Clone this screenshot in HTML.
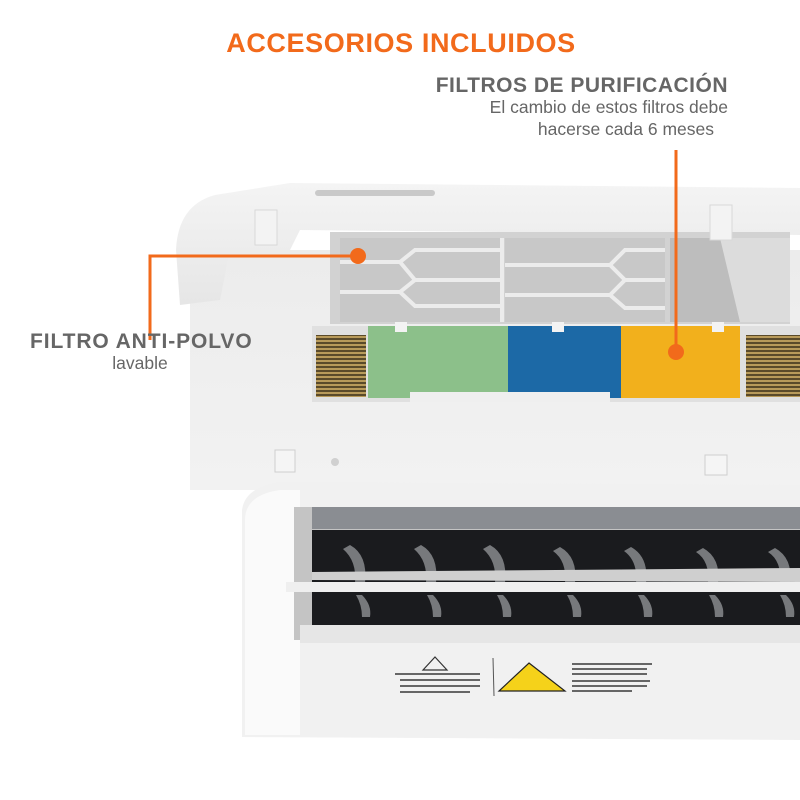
<!DOCTYPE html>
<html><head><meta charset="utf-8"><style>
body{margin:0;background:#fff;}
svg{display:block;}
</style></head><body>
<svg width="800" height="800" viewBox="0 0 800 800" xmlns="http://www.w3.org/2000/svg" font-family="Liberation Sans, sans-serif">
<defs>
<linearGradient id="lid" x1="0" y1="0" x2="0" y2="1"><stop offset="0" stop-color="#f4f4f4"/><stop offset="1" stop-color="#e6e6e6"/></linearGradient>
<linearGradient id="body" x1="0" y1="0" x2="0" y2="1"><stop offset="0" stop-color="#ececec"/><stop offset="1" stop-color="#f2f2f2"/></linearGradient>
<pattern id="coil" width="6" height="4" patternUnits="userSpaceOnUse"><rect width="6" height="4" fill="#5a4a2a"/><rect width="6" height="2" fill="#b89a5a"/></pattern>
</defs>
<path d="M190 250 L800 250 L800 490 L190 490 Z" fill="url(#body)"/>
<path d="M180 305 L176 250 Q178 205 215 195 L290 183 L800 188 L800 235 L300 230 L290 250 L230 250 L220 300 Z" fill="url(#lid)"/>
<rect x="315" y="190" width="120" height="6" rx="3" fill="#c9c9c9"/>
<rect x="330" y="232" width="460" height="92" fill="#d2d2d2"/>
<rect x="340" y="238" width="160" height="84" fill="#c8c8c8"/>
<rect x="505" y="238" width="160" height="84" fill="#c8c8c8"/>
<g stroke="#ececec" stroke-width="4" fill="none">
<path d="M340 262 L400 262 L415 250 L500 250 M340 292 L400 292 L415 280 L500 280 M400 262 L415 280 M400 292 L415 306 L500 306"/>
<path d="M505 265 L610 265 L625 250 L665 250 M505 295 L610 295 L625 280 L665 280 M610 265 L625 280 M610 295 L625 308 L665 308"/>
<path d="M502 238 L502 322"/>
</g>
<rect x="670" y="238" width="115" height="84" fill="#bdbdbd"/>
<path d="M720 238 L790 238 L790 322 L740 322 Z" fill="#dcdcdc"/>
<rect x="255" y="210" width="22" height="35" fill="#f3f3f3" stroke="#d8d8d8"/>
<rect x="710" y="205" width="22" height="35" fill="#f3f3f3" stroke="#d8d8d8"/>
<rect x="312" y="326" width="488" height="76" fill="#e0e0e0"/>
<rect x="316" y="335" width="50" height="62" fill="url(#coil)"/>
<rect x="746" y="335" width="54" height="62" fill="url(#coil)"/>
<rect x="368" y="326" width="140" height="72" fill="#8cc08a"/>
<rect x="508" y="326" width="113" height="72" fill="#1c69a6"/>
<rect x="621" y="326" width="119" height="72" fill="#f2b01c"/>
<rect x="395" y="322" width="12" height="10" fill="#f3f3f3"/>
<rect x="552" y="322" width="12" height="10" fill="#f3f3f3"/>
<rect x="712" y="322" width="12" height="10" fill="#f3f3f3"/>
<rect x="410" y="392" width="200" height="10" fill="#efefef"/>
<rect x="275" y="450" width="20" height="22" fill="#f5f5f5" stroke="#cfcfcf"/>
<rect x="705" y="455" width="22" height="20" fill="#f5f5f5" stroke="#cfcfcf"/>
<circle cx="335" cy="462" r="4" fill="#d0d0d0"/>
<path d="M242 737 L242 510 Q245 487 280 482 L800 485 L800 740 Z" fill="#f1f1f1"/>
<path d="M245 520 Q245 495 280 490 L300 490 L300 735 L245 735 Z" fill="#fafafa"/>
<rect x="294" y="507" width="506" height="133" fill="#c4c4c4"/>
<rect x="312" y="530" width="488" height="96" fill="#1a1b1e"/>
<rect x="312" y="507" width="488" height="22" fill="#8a8d92"/>
<g fill="#77797c">
<path d="M350 545 q18 10 15 38 l-10 0 q2 -22 -12 -34 Z"/>
<path d="M421 545 q18 10 15 38 l-10 0 q2 -22 -12 -34 Z"/>
<path d="M490 545 q18 10 15 38 l-10 0 q2 -22 -12 -34 Z"/>
<path d="M560 547 q18 10 15 36 l-10 0 q2 -22 -12 -32 Z"/>
<path d="M631 547 q18 10 15 36 l-10 0 q2 -22 -12 -32 Z"/>
<path d="M703 548 q18 10 15 35 l-10 0 q2 -22 -12 -31 Z"/>
<path d="M775 548 q18 10 15 35 l-10 0 q2 -22 -12 -31 Z"/>
<path d="M362 595 q10 10 8 22 l-8 0 q0 -12 -6 -22 Z"/>
<path d="M433 595 q10 10 8 22 l-8 0 q0 -12 -6 -22 Z"/>
<path d="M503 595 q10 10 8 22 l-8 0 q0 -12 -6 -22 Z"/>
<path d="M573 595 q10 10 8 22 l-8 0 q0 -12 -6 -22 Z"/>
<path d="M644 595 q10 10 8 22 l-8 0 q0 -12 -6 -22 Z"/>
<path d="M715 595 q10 10 8 22 l-8 0 q0 -12 -6 -22 Z"/>
<path d="M786 595 q10 10 8 22 l-8 0 q0 -12 -6 -22 Z"/>
</g>
<path d="M312 572 L800 568 L800 582 L312 580 Z" fill="#cfcfcf"/>
<rect x="286" y="582" width="514" height="10" fill="#efefef"/>
<rect x="300" y="625" width="500" height="18" fill="#e6e6e6"/>
<path d="M435 657 L447 670 L423 670 Z" fill="none" stroke="#333" stroke-width="1.2"/>
<g fill="#666"><rect x="395" y="673" width="85" height="2"/><rect x="400" y="679" width="80" height="2"/><rect x="400" y="685" width="80" height="2"/><rect x="400" y="691" width="70" height="2"/></g>
<line x1="493" y1="658" x2="494" y2="696" stroke="#555"/>
<path d="M529 663 L565 691 L499 691 Z" fill="#f5d21a" stroke="#222" stroke-width="1.2"/>
<g fill="#666"><rect x="572" y="663" width="80" height="2"/><rect x="572" y="668" width="75" height="2"/><rect x="572" y="673" width="75" height="2"/><rect x="572" y="680" width="78" height="2"/><rect x="572" y="685" width="75" height="2"/><rect x="572" y="690" width="60" height="2"/></g>
<path d="M150 340 L150 256 L358 256" fill="none" stroke="#f26a1b" stroke-width="3"/>
<circle cx="358" cy="256" r="8" fill="#f26a1b"/>
<line x1="676" y1="150" x2="676" y2="352" stroke="#f26a1b" stroke-width="3"/>
<circle cx="676" cy="352" r="8" fill="#f26a1b"/>
<text x="401" y="52" text-anchor="middle" font-size="27" font-weight="bold" fill="#f26a1b" letter-spacing="0.6">ACCESORIOS INCLUIDOS</text>
<text x="728" y="92" text-anchor="end" font-size="21" font-weight="bold" fill="#666" letter-spacing="0.5">FILTROS DE PURIFICACIÓN</text>
<text x="728" y="113" text-anchor="end" font-size="17.5" fill="#666">El cambio de estos filtros debe</text>
<text x="714" y="135" text-anchor="end" font-size="17.5" fill="#666">hacerse cada 6 meses</text>
<text x="30" y="348" font-size="21" font-weight="bold" fill="#666" letter-spacing="0.9">FILTRO ANTI-POLVO</text>
<text x="140" y="369" text-anchor="middle" font-size="17.5" fill="#666">lavable</text>
</svg>
</body></html>
